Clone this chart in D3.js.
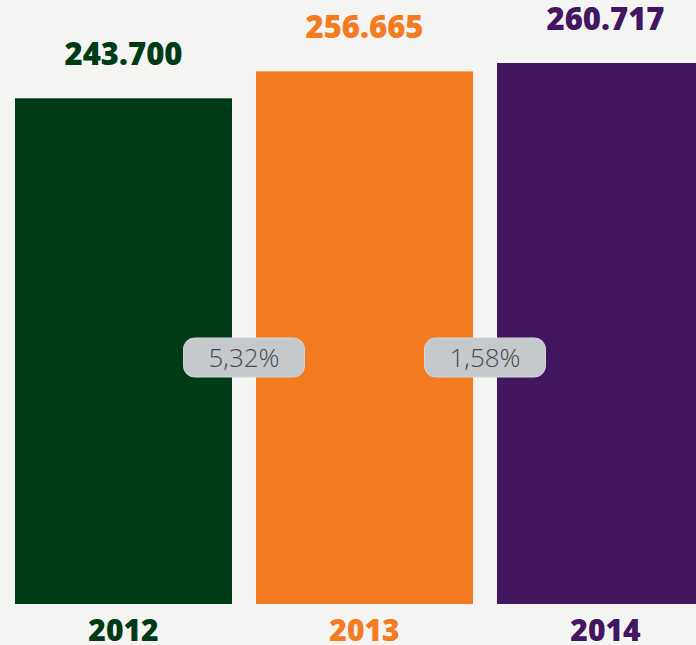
<!DOCTYPE html>
<html>
<head>
<meta charset="utf-8">
<script src="https://cdn.jsdelivr.net/npm/d3@7"></script>
<style>
  html, body { margin: 0; padding: 0; background: #f4f4f2; }
  svg { display: block; }
</style>
</head>
<body>
<div class="chart"></div>
<script>
var years = ["2012", "2013", "2014"];
var values = [243700, 256665, 260717];
var valueLabels = ["243.700", "256.665", "260.717"];
var growthLabels = ["5,32%", "1,58%"];
var colors = ["#003b18", "#f47b20", "#421660"];

function init() {
    var w = 696;
    var h = 645;
    var baseY = 604;

    var svg = d3.select(".chart")
        .append("svg")
        .attr("width", w)
        .attr("height", h);

    svg.append("rect")
        .attr("width", w)
        .attr("height", h)
        .attr("fill", "#f4f4f2");

    var x = d3.scaleBand()
        .domain(years)
        .range([15, 714])
        .paddingInner(24 / 241)
        .paddingOuter(0);

    var y = d3.scaleLinear()
        .domain([0, 260717])
        .range([baseY, 63]);

    svg.selectAll("rect.bar")
        .data(values)
        .enter()
        .append("rect")
        .attr("class", "bar")
        .attr("x", function(d, i) { return x(years[i]); })
        .attr("y", function(d) { return y(d); })
        .attr("width", x.bandwidth())
        .attr("height", function(d) { return baseY - y(d); })
        .attr("fill", function(d, i) { return colors[i]; });

    svg.selectAll("text.value")
        .data(values)
        .enter()
        .append("text")
        .attr("class", "value")
        .attr("x", function(d, i) { return x(years[i]) + x.bandwidth() / 2; })
        .attr("y", function(d) { return y(d) - 33; })
        .attr("text-anchor", "middle")
        .attr("font-family", "'Open Sans', 'Noto Sans', sans-serif")
        .attr("font-weight", 800)
        .attr("font-size", 31)
        .attr("fill", function(d, i) { return colors[i]; })
        .text(function(d, i) { return valueLabels[i]; });

    svg.selectAll("text.year")
        .data(years)
        .enter()
        .append("text")
        .attr("class", "year")
        .attr("x", function(d) { return x(d) + x.bandwidth() / 2; })
        .attr("y", 641)
        .attr("text-anchor", "middle")
        .attr("font-family", "'Open Sans', 'Noto Sans', sans-serif")
        .attr("font-weight", 800)
        .attr("font-size", 30)
        .attr("fill", function(d, i) { return colors[i]; })
        .text(function(d) { return d; });

    // growth pills between bars
    var pills = svg.selectAll("g.pill")
        .data(growthLabels)
        .enter()
        .append("g")
        .attr("class", "pill")
        .attr("transform", function(d, i) {
            var cx = (x(years[i]) + x.bandwidth() + x(years[i + 1])) / 2;
            return "translate(" + cx + ",357.5)";
        });

    pills.append("rect")
        .attr("x", -60.5)
        .attr("y", -19.5)
        .attr("width", 121)
        .attr("height", 39)
        .attr("rx", 11)
        .attr("fill", "#c5c9cc")
        .attr("stroke", "#d3d6d8")
        .attr("stroke-width", 1);

    pills.append("text")
        .attr("text-anchor", "middle")
        .attr("y", 9)
        .attr("font-family", "'Open Sans', 'Lato', sans-serif")
        .attr("font-weight", 300)
        .attr("font-size", 26)
        .attr("fill", "#464b51")
        .text(function(d) { return d; });
}

init()
</script>
</body>
</html>
